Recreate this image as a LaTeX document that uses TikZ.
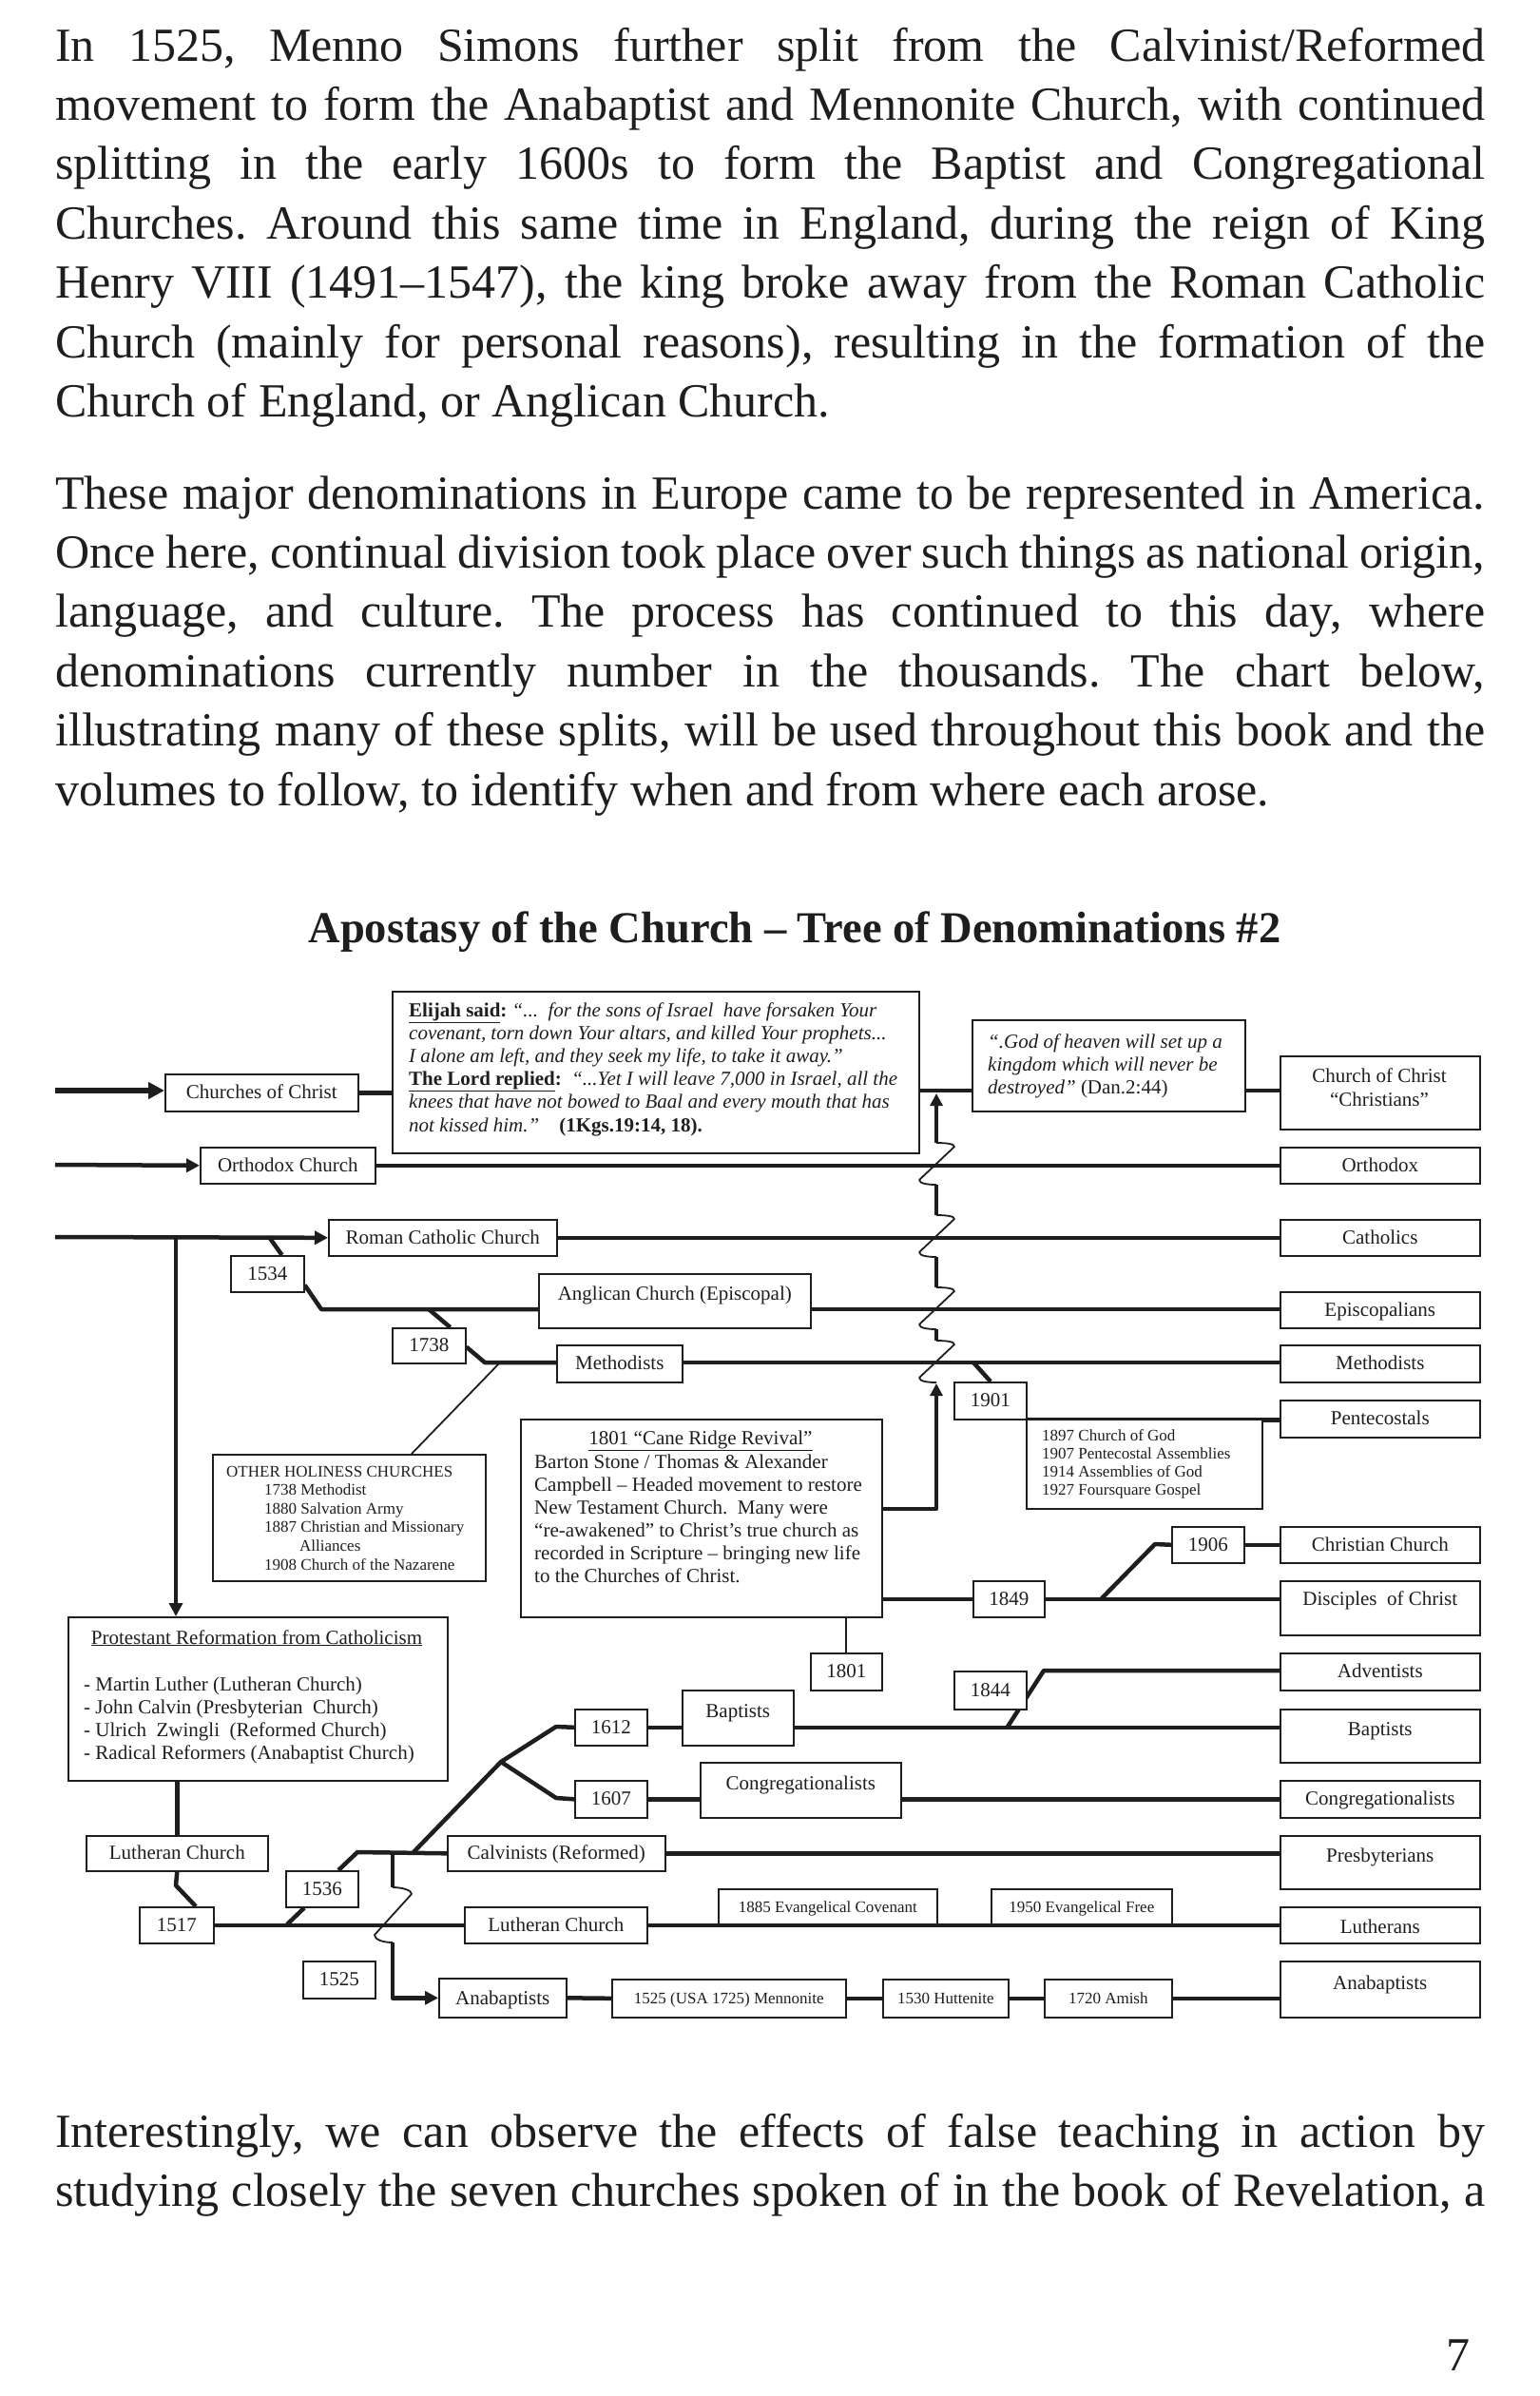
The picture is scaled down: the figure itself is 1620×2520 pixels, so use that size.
\documentclass[tikz,border=0pt]{standalone}
\usepackage{fontspec}
\setmainfont{Liberation Serif}
\usetikzlibrary{arrows.meta}
\pgfdeclarelayer{bg}
\pgfsetlayers{bg,main}
\frenchspacing
\definecolor{ink}{HTML}{1E1E1E}
\tikzset{
  box/.style={draw=ink, line width=1.6pt, fill=white, inner sep=0pt, text=ink, font=\fontsize{21}{24}\selectfont},
  sbox/.style={font=\fontsize{17}{20}\selectfont},
  ln/.style={ink, line width=4.5pt, line join=round},
  thinln/.style={ink, line width=1.8pt, line join=round},
  arr/.style={-{Triangle[length=14pt,width=14pt]}},
  txt/.style={inner sep=0pt, text=ink},
}
\def\bxoff{7}
\newcommand\bx[8][]{%
  \pgfmathsetmacro\bxw{#5-#3}%
  \pgfmathsetmacro\bxh{#7+\bxoff-#4}%
  \pgfmathsetmacro\bxd{#6-#7-\bxoff}%
  \node[box,anchor=north west,minimum width=\bxw pt,text height=\bxh pt,text depth=\bxd pt,#1] (#2) at (#3,#4) {#8};}
\newcommand\zz[2]{%
  \draw[thinln] (#1,#2-23) .. controls (#1+10,#2-23) and (#1+19,#2-22) .. (#1+19,#2-19) -- (#1-18,#2+16) .. controls (#1-18,#2+20) and (#1-8,#2+21) .. (#1,#2+21);}
\begin{document}
\begin{tikzpicture}[x=1pt,y=-1pt]
\begin{pgfonlayer}{bg}
\fill[white] (0,0) rectangle (1620,2520);
\end{pgfonlayer}
\useasboundingbox (0,0) rectangle (1620,2520);

% ---------- body text ----------
\node[txt,anchor=base west] (p1) at (58,64) {\parbox[t]{1504pt}{\fontsize{50}{62.4}\selectfont\frenchspacing
\makebox[\linewidth][s]{In 1525, Menno Simons further split from the Calvinist/Reformed}\\
\makebox[\linewidth][s]{movement to form the Anabaptist and Mennonite Church, with continued}\\
\makebox[\linewidth][s]{splitting in the early 1600s to form the Baptist and Congregational}\\
\makebox[\linewidth][s]{Churches. Around this same time in England, during the reign of King}\\
\makebox[\linewidth][s]{Henry VIII (1491–1547), the king broke away from the Roman Catholic}\\
\makebox[\linewidth][s]{Church (mainly for personal reasons), resulting in the formation of the}\\
\makebox[\linewidth][l]{Church of England, or Anglican Church.}}};

\node[txt,anchor=base west] (p2) at (58,535) {\parbox[t]{1504pt}{\fontsize{50}{62.4}\selectfont\frenchspacing
\makebox[\linewidth][s]{These major denominations in Europe came to be represented in America.}\\
\makebox[\linewidth][s]{Once here, continual division took place over such things as national origin,}\\
\makebox[\linewidth][s]{language, and culture. The process has continued to this day, where}\\
\makebox[\linewidth][s]{denominations currently number in the thousands. The chart below,}\\
\makebox[\linewidth][s]{illustrating many of these splits, will be used throughout this book and the}\\
\makebox[\linewidth][l]{volumes to follow, to identify when and from where each arose.}}};

\node[txt,anchor=base west] (p3) at (58,2258) {\parbox[t]{1504pt}{\fontsize{50}{62.4}\selectfont\frenchspacing
\makebox[\linewidth][s]{Interestingly, we can observe the effects of false teaching in action by}\\
\makebox[\linewidth][s]{studying closely the seven churches spoken of in the book of Revelation, a}}};

\node[txt,anchor=base east] (pg) at (1547,2493) {\fontsize{50}{60}\selectfont 7};

% ---------- title ----------
\node[txt,anchor=base] (title) at (836,991) {\fontsize{46.5}{52}\selectfont\bfseries Apostasy of the Church – Tree of Denominations \#2};

% ---------- boxes ----------
\bx{coc}{173}{1129}{376}{1168}{1148}{Churches of Christ}
\bx{elijah}{412}{1042}{966}{1212}{1127}{}
\bx{god}{1022}{1072}{1309}{1168}{1120}{}
\bx{rCoC}{1346}{1110}{1556}{1187}{1148}{}
\bx{orth}{210}{1206}{394}{1244}{1225}{Orthodox Church}
\bx{rOrth}{1346}{1206}{1556}{1244}{1225}{Orthodox}
\bx{rc}{345}{1282}{585}{1320}{1301}{Roman Catholic Church}
\bx{rCath}{1346}{1282}{1556}{1320}{1301}{Catholics}
\bx{y1534}{242}{1320}{319}{1358}{1339}{1534}
\bx{angl}{566}{1339}{852}{1396}{1360}{Anglican Church (Episcopal)}
\bx{rEpis}{1346}{1358}{1556}{1396}{1377}{Episcopalians}
\bx{y1738}{412}{1396}{489}{1433}{1414}{1738}
\bx{meth}{585}{1414}{717}{1453}{1433}{Methodists}
\bx{rMeth}{1346}{1414}{1556}{1453}{1433}{Methodists}
\bx{y1901}{1003}{1453}{1079}{1492}{1472}{1901}
\bx{rPent}{1346}{1472}{1556}{1511}{1491}{Pentecostals}
\bx{pentList}{1079}{1492}{1327}{1586}{1539}{}
\bx{holy}{223}{1529}{510}{1662}{1595}{}
\bx{cane}{547}{1492}{927}{1700}{1596}{}
\bx{y1906}{1232}{1605}{1308}{1643}{1624}{1906}
\bx{rChr}{1346}{1605}{1556}{1643}{1624}{Christian Church}
\bx{y1849}{1023}{1662}{1098}{1700}{1681}{1849}
\bx{rDisc}{1346}{1662}{1556}{1719}{1681}{Disciples\ \ of Christ}
\bx{prot}{71}{1700}{470}{1872}{1786}{}
\bx{y1801}{852}{1738}{927}{1777}{1757}{1801}
\bx{rAdv}{1346}{1738}{1556}{1777}{1757}{Adventists}
\bx{y1844}{1003}{1757}{1079}{1797}{1777}{1844}
\bx{y1612}{604}{1797}{680}{1835}{1816}{1612}
\bx{bapt}{717}{1777}{834}{1835}{1799}{Baptists}
\bx{rBapt}{1346}{1797}{1556}{1853}{1818}{Baptists}
\bx{y1607}{604}{1872}{680}{1911}{1891}{1607}
\bx{cong}{736}{1853}{947}{1911}{1875}{Congregationalists}
\bx{rCong}{1346}{1872}{1556}{1911}{1891}{Congregationalists}
\bx{luth1}{90}{1930}{281}{1967}{1948}{Lutheran Church}
\bx{calv}{470}{1930}{699}{1967}{1948}{Calvinists (Reformed)}
\bx{rPres}{1346}{1930}{1556}{1986}{1951}{Presbyterians}
\bx{y1536}{300}{1967}{376}{2005}{1986}{1536}
\bx{y1517}{146}{2005}{224}{2043}{2024}{1517}
\bx{luth2}{488}{2005}{680}{2043}{2024}{Lutheran Church}
\bx{rLuth}{1346}{2005}{1556}{2043}{2026}{Lutherans}
\bx{y1525}{318}{2062}{394}{2101}{2081}{1525}
\bx{anab}{461}{2080}{595}{2121}{2101}{Anabaptists}
\bx{rAnab}{1346}{2062}{1556}{2121}{2085}{Anabaptists}
\def\bxoff{5.6}
\bx[sbox]{ev1885}{755}{1986}{985}{2023}{2005}{1885 Evangelical Covenant}
\bx[sbox]{ev1950}{1042}{1986}{1232}{2023}{2005}{1950 Evangelical Free}
\bx[sbox]{menn}{643}{2081}{889}{2121}{2101}{1525 (USA 1725) Mennonite}
\bx[sbox]{hutt}{928}{2081}{1060}{2121}{2101}{1530 Huttenite}
\bx[sbox]{amish}{1098}{2081}{1232}{2121}{2101}{1720 Amish}
\def\bxoff{7}

% ---------- multi-line texts ----------
\node[txt,anchor=base west] (elijahT) at (430,1069) {\parbox[t]{560pt}{\fontsize{21}{24.2}\selectfont\raggedright
\underline{\textbf{Elijah said}}\textbf{:} \textit{“...\ \ for the sons of Israel\ \ have forsaken Your}\\
\textit{covenant, torn down Your altars, and killed Your prophets...}\\
\textit{I alone am left, and they seek my life, to take it away.”}\\
\underline{\textbf{The Lord replied}}\textbf{:}\ \ \textit{“...Yet I will leave 7,000 in Israel, all the}\\
\textit{knees that have not bowed to Baal and every mouth that has}\\
\textit{not kissed him.”}\quad\textbf{(1Kgs.19:14, 18).}}};

\node[txt,anchor=base west] (godT) at (1039,1102) {\parbox[t]{300pt}{\fontsize{21}{24}\selectfont\raggedright
\textit{“.God of heaven will set up a}\\
\textit{kingdom which will never be}\\
\textit{destroyed”} (Dan.2:44)}};

\node[txt,anchor=base] (rCoCT) at (1451,1138) {\parbox[t]{200pt}{\fontsize{21}{25}\selectfont\centering
Church of Christ\\“Christians”}};

\node[txt,anchor=base] (caneTitle) at (737,1519) {\fontsize{21}{24}\selectfont\underline{1801 “Cane Ridge Revival”}};
\node[txt,anchor=base west] (caneT) at (562,1544) {\parbox[t]{360pt}{\fontsize{21}{24}\selectfont\raggedright
Barton Stone / Thomas \& Alexander\\
Campbell – Headed movement to restore\\
New Testament Church.\ \ Many were\\
“re-awakened” to Christ’s true church as\\
recorded in Scripture – bringing new life\\
to the Churches of Christ.}};

\node[txt,anchor=base] (protTitle) at (270,1729) {\fontsize{21}{24}\selectfont\underline{Protestant Reformation from Catholicism}};
\node[txt,anchor=base west] (protT) at (88,1778) {\parbox[t]{375pt}{\fontsize{21}{24}\selectfont\raggedright
- Martin Luther (Lutheran Church)\\
- John Calvin (Presbyterian\ \ Church)\\
- Ulrich\ \ Zwingli\ \ (Reformed Church)\\
- Radical Reformers (Anabaptist Church)}};

\node[txt,anchor=base west] (holyT) at (238,1553) {\parbox[t]{270pt}{\fontsize{17}{19.6}\selectfont\raggedright
OTHER HOLINESS CHURCHES\\
\hspace*{40pt}1738 Methodist\\
\hspace*{40pt}1880 Salvation Army\\
\hspace*{40pt}1887 Christian and Missionary\\
\hspace*{77pt}Alliances\\
\hspace*{40pt}1908 Church of the Nazarene}};

\node[txt,anchor=base west] (pentT) at (1096,1515) {\parbox[t]{228pt}{\fontsize{17}{19.3}\selectfont\raggedright
1897 Church of God\\
1907 Pentecostal Assemblies\\
1914 Assemblies of God\\
1927 Foursquare Gospel}};

% ---------- connectors ----------
\begin{pgfonlayer}{bg}
\coordinate (sCoC) at (58,1147);
\coordinate (sOrth) at (58,1225);
\coordinate (sRC) at (58,1301);
\draw[ln,line width=6pt,-{Triangle[length=17pt,width=17pt]}] (sCoC) -- (sCoC -| coc.west);
\draw[ln] (coc.east) -- (coc.east -| elijah.west);
\draw[ln] (sCoC -| elijah.east) -- (sCoC -| god.west);
\draw[ln] (sCoC -| god.east) -- (sCoC -| rCoC.west);
\draw[ln,arr] (sOrth) -- (orth.west);
\draw[ln] (orth.east) -- (rOrth.west);
\draw[ln,arr] (sRC) -- (rc.west);
\draw[ln] (rc.east) -- (rCath.west);
% down to Protestant Reformation
\coordinate (jProt) at (185,1301);
\draw[ln,arr] (jProt) -- (jProt |- prot.north);
% 1534 Anglican
\coordinate (j1534) at (283,1301);
\coordinate (kAngl) at (338,1377);
\draw[ln] (j1534) -- ([xshift=-24pt]y1534.north east);
\draw[ln] ([yshift=8pt]y1534.south east) -- (kAngl) -- (kAngl -| angl.west);
\draw[ln] (kAngl -| angl.east) -- (kAngl -| rEpis.west);
% 1738 Methodists
\coordinate (j1738) at (451,1377);
\coordinate (kMeth) at (510,1433);
\draw[ln] (j1738) -- ([xshift=-17pt]y1738.north east);
\draw[ln] ([yshift=18pt]y1738.south east) -- (kMeth) -- (kMeth -| meth.west);
\draw[ln] (kMeth -| meth.east) -- (kMeth -| rMeth.west);
\coordinate (jHoly) at (526,1433);
\draw[thinln] (jHoly) -- ([xshift=210pt]holy.north west);
% 1901 Pentecostals
\coordinate (j1901) at (1024,1433);
\draw[ln] (j1901) -- ([xshift=39pt]y1901.north west);
\draw[ln] (y1901.south east) -- (y1901.south east -| rPent.west);
% Cane Ridge restoration arrow with breaks
\coordinate (zBot) at (985,1455);
\coordinate (zTop) at (985,1150);
\draw[ln,-{Triangle[length=13pt,width=13pt]}] ([yshift=10pt]cane.east) -| (zBot);
\zz{985}{1433}
\draw[ln] (985,1410) -- (985,1398);
\zz{985}{1377}
\draw[ln] (985,1354) -- (985,1322);
\zz{985}{1301}
\draw[ln] (985,1278) -- (985,1246);
\zz{985}{1225}
\draw[ln,-{Triangle[length=13pt,width=13pt]}] (985,1202) -- (zTop);
% 1849 / 1906
\draw[ln] (cane.east |- y1849.west) -- (y1849.west);
\draw[ln] (y1849.east) -- (y1849.east -| rDisc.west);
\coordinate (j1906) at (1159,1681);
\coordinate (k1906) at (1215,1624);
\draw[ln] (j1906) -- (k1906) -- (y1906.west);
\draw[ln] (y1906.east) -- (rChr.west);
\draw[thinln] (cane.south -| y1801.north) -- (y1801.north);
% Protestant to Lutheran 1517
\coordinate (k1517) at (185,1983);
\draw[ln] (luth1.north |- prot.south) -- (luth1.north);
\draw[ln] (luth1.south) -- (k1517) -- ([xshift=60pt]y1517.north west);
\draw[ln] (y1517.east) -- (luth2.west);
\draw[ln] (luth2.east) -- (rLuth.west);
% 1536 Calvinists
\coordinate (j1536) at (302,2024);
\coordinate (kCalv) at (376,1948);
\draw[ln] (j1536) -- ([xshift=20pt]y1536.south west);
\draw[ln] ([xshift=56pt]y1536.north west) -- (kCalv) -- (calv.west);
\draw[ln] (calv.east) -- (calv.east -| rPres.west);
% Baptists / Congregationalists
\coordinate (jBr) at (435,1948);
\coordinate (br) at (527,1853);
\coordinate (kUp) at (585,1816);
\coordinate (kDn) at (585,1891);
\draw[ln] (jBr) -- (br) -- (kUp) -- (y1612.west);
\draw[ln] (br) -- (kDn) -- (y1607.west);
\draw[ln] (y1612.east) -- (y1612.east -| bapt.west);
\draw[ln] (y1612.east -| bapt.east) -- (y1612.east -| rBapt.west);
\draw[ln] (y1607.east) -- (y1607.east -| cong.west);
\draw[ln] (y1607.east -| cong.east) -- (y1607.east -| rCong.west);
% 1844 Adventists
\coordinate (j1844) at (1060,1816);
\coordinate (k1844) at (1098,1757);
\draw[ln] (j1844) -- (k1844) -- (k1844 -| rAdv.west);
% Anabaptists
\coordinate (jAn) at (413,1948);
\coordinate (zA1) at (413,1985);
\coordinate (zA2) at (413,2043);
\draw[ln] (jAn) -- (zA1);
\draw[thinln] (zA1) .. controls (423,1985) and (433,1988) .. (433,1992) -- (394,2035) .. controls (394,2040) and (403,2043) .. (zA2);
\draw[ln,arr] (zA2) |- (anab.west);
\draw[ln] (anab.east) -- (menn.west);
\draw[ln] (menn.east) -- (hutt.west);
\draw[ln] (hutt.east) -- (amish.west);
\draw[ln] (amish.east) -- (amish.east -| rAnab.west);
\end{pgfonlayer}
\end{tikzpicture}
\end{document}
